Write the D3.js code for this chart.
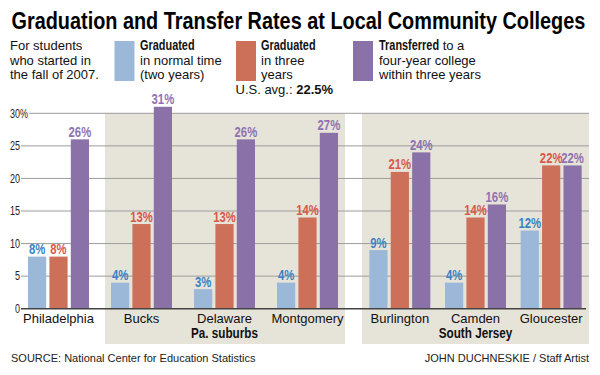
<!DOCTYPE html>
<html>
<head>
<meta charset="utf-8">
<script src="https://cdn.jsdelivr.net/npm/d3@7"></script>
<style>
  body { margin: 0; background: #fff; }
  svg { display: block; }
  text { font-family: "Liberation Sans", Arial, Helvetica, sans-serif; }
</style>
</head>
<body>
<div id="chart"></div>
<script>
// data
const colleges = ["Philadelphia", "Bucks", "Delaware", "Montgomery", "Burlington", "Camden", "Gloucester"];
const collegeRegion = ["Philadelphia", "Pa. suburbs", "Pa. suburbs", "Pa. suburbs", "South Jersey", "South Jersey", "South Jersey"];
const normalTime = [8, 4, 3, 4, 9, 4, 12];
const threeYears = [8, 13, 13, 14, 21, 14, 22];
const transferred = [26, 31, 26, 27, 24, 16, 22];
const seriesKeys = ["normal", "three", "transfer"];
const yTicks = [0, 5, 10, 15, 20, 25, 30];

const W = 600, H = 375;
const svg = d3.select("#chart").append("svg")
    .attr("width", W)
    .attr("height", H);

const barColor = { normal: "#9bb8d9", three: "#cc705a", transfer: "#8a72a8" };
const labelColor = { normal: "#3b82c4", three: "#d9584a", transfer: "#8f72b3" };

// squeezed text, since no condensed face is installed
function narrowText(parent, x, y, str, size, sx, anchor) {
    const g = parent.append("g").attr("transform", `translate(${x},${y}) scale(${sx},1)`);
    const t = g.append("text")
        .attr("font-size", size)
        .attr("font-weight", "bold")
        .attr("text-anchor", anchor || "start")
        .attr("fill", "#111")
        .text(str);
    return t;
}

// y scale
const y = d3.scaleLinear().domain([0, 30]).range([308.7, 113.3]);

// region layout (panel extents and where the groups sit)
const regionLayout = {
    "Philadelphia": { panel: null, range: [20, 97] },
    "Pa. suburbs": { panel: [105, 345], range: [100, 349] },
    "South Jersey": { panel: [362, 589], range: [362, 589] }
};

const regionScale = {};
Object.keys(regionLayout).forEach(r => {
    const members = colleges.filter((c, i) => collegeRegion[i] === r);
    regionScale[r] = d3.scalePoint().domain(members).range(regionLayout[r].range).padding(0.5);
});
const xCenter = (c, i) => regionScale[collegeRegion[i]](c);

const xSub = d3.scaleBand().domain(seriesKeys).range([-30.5, 30.5]).paddingInner(0.15);

// shaded panels
Object.keys(regionLayout).forEach(r => {
    const p = regionLayout[r].panel;
    if (!p) return;
    svg.append("rect")
        .attr("x", p[0]).attr("y", y(30))
        .attr("width", p[1] - p[0]).attr("height", 344 - y(30))
        .attr("fill", "#e6e3d8");
});

// gridlines + tick labels
yTicks.forEach(t => {
    if (t === 0) return;
    svg.append("line")
        .attr("x1", t === 30 ? 29 : 21).attr("x2", 589)
        .attr("y1", y(t)).attr("y2", y(t))
        .attr("stroke", "#9c9c9c").attr("stroke-width", 1);
});
yTicks.forEach(t => {
    narrowText(svg, 20, y(t) + 4.3, t, 12, 0.75, "end")
        .attr("font-weight", "normal").attr("fill", "#222");
    if (t === 30) {
        narrowText(svg, 20, y(t) + 4.3, "%", 12, 0.75, "start")
            .attr("font-weight", "normal").attr("fill", "#222");
    }
});

// bars
const rows = colleges.map((c, i) => ({
    college: c, i: i,
    values: { normal: normalTime[i], three: threeYears[i], transfer: transferred[i] }
}));

const groups = svg.selectAll(".grp")
    .data(rows)
    .enter().append("g")
    .attr("class", "grp")
    .attr("transform", d => `translate(${xCenter(d.college, d.i)},0)`);

groups.selectAll("rect")
    .data(d => seriesKeys.map(k => ({ key: k, value: d.values[k] })))
    .enter().append("rect")
    .attr("x", d => xSub(d.key))
    .attr("width", xSub.bandwidth())
    .attr("y", d => y(d.value))
    .attr("height", d => y(0) - y(d.value))
    .attr("fill", d => barColor[d.key]);

groups.each(function (d) {
    const g = d3.select(this);
    seriesKeys.forEach(k => {
        const v = d.values[k];
        narrowText(g, xSub(k) + xSub.bandwidth() / 2, y(v) - 2.5, v + "%", 14.5, 0.78, "middle")
            .attr("fill", labelColor[k]);
    });
});

// baseline
svg.append("line")
    .attr("x1", 21).attr("x2", 586)
    .attr("y1", y(0)).attr("y2", y(0))
    .attr("stroke", "#444").attr("stroke-width", 1.5);

// category labels
groups.append("text")
    .attr("y", 322.7)
    .attr("text-anchor", "middle")
    .attr("font-size", 13)
    .attr("fill", "#111")
    .text(d => d.college);

// region labels
["Pa. suburbs", "South Jersey"].forEach(r => {
    const members = colleges.filter((c, i) => collegeRegion[i] === r);
    narrowText(svg, regionScale[r](members[1]), 338, r, 15, 0.78, "middle");
});

// title
const title = narrowText(svg, 11.5, 29, "Graduation and Transfer Rates at Local Community Colleges", 23.5, 1, "start")
    .attr("fill", "#000");
const tw = title.node().getComputedTextLength();
d3.select(title.node().parentNode).attr("transform", `translate(11.5,29) scale(${574 / tw},1)`);

// legend
const lineY = [50, 64.5, 79];
const intro = ["For students", "who started in", "the fall of 2007."];
intro.forEach((t, i) => {
    svg.append("text")
        .attr("x", 10).attr("y", lineY[i])
        .attr("font-size", 13).attr("fill", "#111")
        .text(t);
});

const legendItems = [
    { key: "normal", sx: 114.5, tx: 140, lines: [["Graduated", ""], ["", "in normal time"], ["", "(two years)"]] },
    { key: "three", sx: 236, tx: 261, lines: [["Graduated", ""], ["", "in three"], ["", "years"]] },
    { key: "transfer", sx: 353, tx: 379, lines: [["Transferred", " to a"], ["", "four-year college"], ["", "within three years"]] }
];
legendItems.forEach(item => {
    svg.append("rect")
        .attr("x", item.sx).attr("y", 41)
        .attr("width", 20).attr("height", 40)
        .attr("fill", barColor[item.key]);
    item.lines.forEach((ln, i) => {
        let x = item.tx;
        if (ln[0]) {
            const b = narrowText(svg, x, lineY[i], ln[0], 14, 0.78, "start");
            x += b.node().getComputedTextLength() * 0.78;
        }
        if (ln[1]) {
            svg.append("text")
                .attr("x", x).attr("y", lineY[i])
                .attr("font-size", 13).attr("fill", "#111")
                .attr("xml:space", "preserve")
                .style("white-space", "pre")
                .text(ln[1]);
        }
    });
});

const avg = svg.append("text")
    .attr("x", 235.5).attr("y", 93.5)
    .attr("font-size", 13).attr("fill", "#111");
avg.append("tspan").text("U.S. avg.: ");
avg.append("tspan").attr("font-weight", "bold").text("22.5%");

// footer
svg.append("text")
    .attr("x", 11).attr("y", 361.5)
    .attr("font-size", 11).attr("fill", "#222")
    .text("SOURCE: National Center for Education Statistics");
svg.append("text")
    .attr("x", 589).attr("y", 361.5)
    .attr("text-anchor", "end")
    .attr("font-size", 11).attr("fill", "#222")
    .text("JOHN DUCHNESKIE / Staff Artist");
</script>
</body>
</html>
